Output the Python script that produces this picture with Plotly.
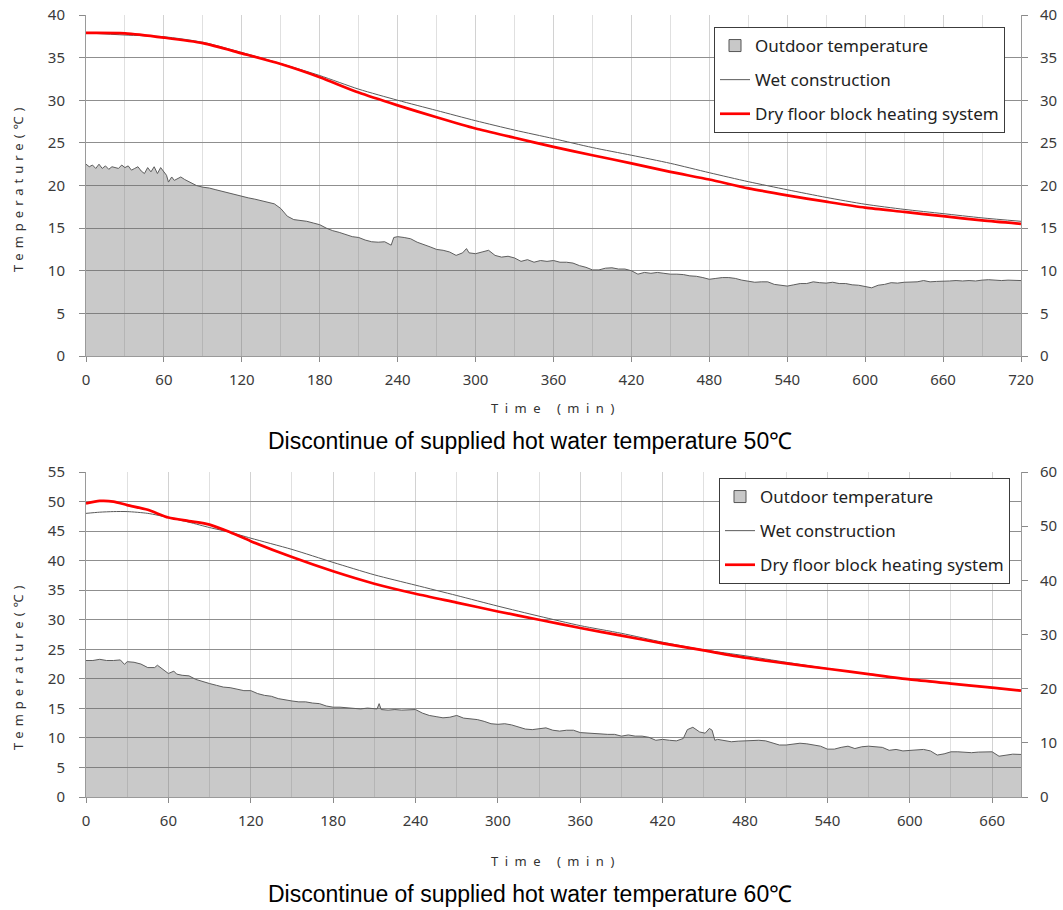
import plotly.graph_objects as go

W, H = 1063, 910


def px(x):
    return x / W


def py(y):
    return 1 - y / H


# ---------------- Data: top chart (supplied hot water 50 °C) ----------------
top_curve_t = [0, 30, 60, 90, 120, 150, 180, 210, 240, 270, 300, 330, 360, 390,
               420, 450, 480, 510, 540, 570, 600, 630, 660, 690, 720]
top_wet = [37.9, 37.65, 37.45, 36.8, 35.6, 34.3, 32.9, 31.3, 30.0, 28.8, 27.6, 26.5,
           25.5, 24.45, 23.55, 22.6, 21.5, 20.45, 19.5, 18.6, 17.8, 17.2, 16.7, 16.2, 15.8]
top_dry = [37.9, 37.85, 37.35, 36.7, 35.5, 34.25, 32.7, 30.9, 29.4, 28.0, 26.68, 25.6,
           24.53, 23.55, 22.6, 21.6, 20.7, 19.67, 18.85, 18.1, 17.4, 16.9, 16.4, 15.9, 15.5]

top_out_t = [0, 2.5, 5, 7.5, 10, 12.5, 15, 17.5, 20, 22.5, 25, 27.5, 30, 32.5, 35, 37.5,
             40, 42.5, 45, 47.5, 50, 52.5, 55, 57.5, 60, 62, 63.5, 66, 68, 70, 73, 76,
             80, 85, 90, 95, 100, 105, 110, 115, 120, 125, 130, 135, 140, 145, 150, 155,
             160, 165, 170, 175, 180, 185, 190, 195, 200, 205, 210, 215, 220, 225, 230,
             235, 237, 240, 245, 250, 255, 260, 265, 270, 275, 280, 285, 290, 293, 295,
             300, 305, 310, 315, 320, 325, 330, 335, 340, 345, 350, 355, 360, 365, 370,
             375, 380, 385, 390, 395, 400, 405, 410, 415, 420, 425, 430, 435, 440, 445,
             450, 455, 460, 465, 470, 475, 480, 485, 490, 495, 500, 505, 510, 515, 520,
             525, 530, 535, 540, 545, 550, 555, 560, 565, 570, 575, 580, 585, 590, 595,
             600, 605, 610, 615, 620, 625, 630, 635, 640, 645, 650, 655, 660, 665, 670,
             675, 680, 685, 690, 695, 700, 705, 710, 715, 720]
top_out_v = [22.5, 22.2, 22.4, 22.0, 22.5, 22.0, 22.3, 21.9, 22.2, 22.1, 22.0, 22.4, 22.1,
             22.3, 21.8, 22.0, 22.2, 21.7, 21.4, 22.1, 21.6, 22.2, 21.4, 22.1, 21.6, 21.2,
             20.4, 21.0, 20.6, 20.8, 21.0, 20.7, 20.4, 20.0, 19.8, 19.7, 19.5, 19.3, 19.1,
             18.9, 18.75, 18.55, 18.4, 18.2, 18.0, 17.85, 17.3, 16.4, 16.0, 15.9, 15.8,
             15.6, 15.4, 15.0, 14.7, 14.5, 14.25, 14.0, 13.9, 13.6, 13.4, 13.35, 13.4,
             13.0, 13.9, 14.0, 13.9, 13.75, 13.35, 13.1, 12.8, 12.5, 12.4, 12.2, 11.8,
             12.1, 12.6, 12.1, 12.0, 12.2, 12.4, 11.8, 11.6, 11.7, 11.5, 11.1, 11.3, 11.0,
             11.2, 11.1, 11.2, 11.0, 11.0, 10.9, 10.6, 10.4, 10.1, 10.1, 10.3, 10.35, 10.2,
             10.2, 10.0, 9.6, 9.8, 9.7, 9.8, 9.7, 9.6, 9.6, 9.55, 9.4, 9.35, 9.2, 9.0,
             9.1, 9.2, 9.2, 9.1, 8.9, 8.8, 8.65, 8.7, 8.7, 8.4, 8.3, 8.2, 8.35, 8.5, 8.5,
             8.7, 8.6, 8.55, 8.65, 8.5, 8.5, 8.35, 8.3, 8.15, 8.0, 8.3, 8.4, 8.6, 8.55,
             8.65, 8.65, 8.7, 8.85, 8.7, 8.75, 8.75, 8.8, 8.85, 8.8, 8.85, 8.8, 8.9, 8.95,
             8.9, 8.85, 8.9, 8.9, 8.85]

# ---------------- Data: bottom chart (supplied hot water 60 °C) ----------------
bot_curve_t = [0, 10, 20, 30, 45, 60, 75, 90, 105, 120, 150, 180, 210, 240, 270, 300,
               330, 360, 390, 420, 450, 480, 510, 540, 570, 600, 630, 660, 681]
bot_wet = [48.0, 48.2, 48.3, 48.3, 48.0, 47.3, 46.5, 45.6, 44.8, 43.8, 41.9, 39.7, 37.6,
           35.85, 34.1, 32.3, 30.6, 29.0, 27.7, 26.2, 24.9, 23.9, 22.8, 21.75, 20.8,
           19.85, 19.15, 18.45, 17.95]
bot_dry = [49.7, 50.1, 50.0, 49.4, 48.6, 47.3, 46.7, 46.1, 44.8, 43.3, 40.6, 38.2, 36.1,
           34.4, 32.9, 31.4, 30.0, 28.6, 27.3, 26.0, 24.8, 23.6, 22.6, 21.7, 20.8, 19.9,
           19.2, 18.5, 18.0]

bot_out_t = [0, 5, 10, 15, 20, 25, 28, 30, 35, 40, 45, 50, 52, 55, 60, 64, 66, 70, 75, 80,
             85, 90, 95, 100, 105, 110, 115, 120, 125, 130, 135, 140, 145, 150, 155, 160,
             165, 170, 175, 180, 185, 190, 195, 200, 205, 210, 212, 213.5, 215, 220, 225,
             230, 235, 240, 245, 250, 255, 260, 265, 270, 275, 280, 285, 290, 295, 300,
             305, 310, 315, 320, 325, 330, 335, 340, 345, 350, 355, 360, 365, 370, 375,
             380, 385, 390, 395, 400, 405, 410, 415, 420, 425, 430, 435, 438, 442, 447,
             451, 454, 456, 458, 460, 465, 470, 475, 480, 485, 490, 495, 500, 505, 510,
             515, 520, 525, 530, 535, 540, 545, 550, 555, 560, 565, 570, 575, 580, 585,
             590, 595, 600, 605, 610, 615, 620, 625, 630, 635, 640, 645, 650, 655, 660,
             665, 670, 675, 681]
bot_out_v = [23.1, 23.1, 23.3, 23.1, 23.1, 23.2, 22.45, 22.9, 22.8, 22.5, 21.9, 21.9, 22.3,
             21.8, 20.9, 21.3, 20.8, 20.6, 20.5, 19.9, 19.5, 19.2, 18.9, 18.6, 18.5, 18.2,
             18.0, 18.0, 17.5, 17.2, 17.05, 16.65, 16.4, 16.25, 16.1, 16.1, 15.9, 15.8,
             15.4, 15.2, 15.2, 15.1, 14.9, 14.9, 15.05, 14.9, 14.9, 15.8, 14.8, 14.7, 14.8,
             14.7, 14.8, 14.8, 14.2, 13.8, 13.6, 13.4, 13.5, 13.8, 13.35, 13.2, 13.1, 12.8,
             12.4, 12.3, 12.4, 12.2, 11.9, 11.5, 11.4, 11.55, 11.7, 11.3, 11.15, 11.3, 11.3,
             10.9, 10.8, 10.8, 10.65, 10.6, 10.6, 10.3, 10.5, 10.3, 10.3, 10.1, 9.6, 9.75,
             9.6, 9.5, 9.9, 11.4, 11.8, 11.0, 10.8, 11.6, 11.3, 9.6, 9.75, 9.6, 9.35, 9.45,
             9.5, 9.6, 9.6, 9.5, 9.2, 8.8, 8.8, 9.0, 9.1, 9.0, 8.8, 8.6, 8.1, 8.1, 8.4, 8.6,
             8.2, 8.5, 8.6, 8.5, 8.4, 7.9, 8.05, 7.8, 7.9, 7.9, 8.05, 7.8, 7.1, 7.3, 7.65,
             7.65, 7.6, 7.5, 7.6, 7.65, 7.65, 6.9, 7.1, 7.25, 7.2]

top_xticks = list(range(0, 721, 60))
bot_xticks = list(range(0, 661, 60))

series_names = ["Outdoor temperature", "Wet construction", "Dry floor block heating system"]
captions = ["Discontinue of supplied hot water temperature 50℃",
            "Discontinue of supplied hot water temperature 60℃"]
x_title = "Time (min)"
y_title = "Temperature(℃)"

# ---------------- Styling ----------------
OUT_FILL = "rgba(100,100,100,0.35)"
OUT_LINE = "#5e5e5e"
WET_COLOR = "#5a5a5a"
DRY_COLOR = "#ff0000"
TICK_FONT = dict(family="Noto Sans", size=15, color="#3a3a3a")
HGRID = "#8f8f8f"
VGRID = "#d2d2d2"
VMINOR = "#e0e0e0"

fig = go.Figure()


def add_chart(xa, ya, ya_right, leg, out_t, out_v, ct, wet, dry):
    fig.add_trace(go.Scatter(x=out_t, y=out_v, name=series_names[0], mode="lines",
                             fill="tozeroy", fillcolor=OUT_FILL,
                             line=dict(color=OUT_LINE, width=1),
                             xaxis=xa, yaxis=ya, showlegend=False, legendgroup=leg + "a",
                             hoverinfo="skip"))
    fig.add_trace(go.Bar(x=[None], y=[None], name=series_names[0],
                         marker=dict(color="#c8c8c8", line=dict(color="#555555", width=1)),
                         xaxis=xa, yaxis=ya, legend=leg, legendgroup=leg + "a"))
    fig.add_trace(go.Scatter(x=ct, y=wet, name=series_names[1], mode="lines",
                             line=dict(color=WET_COLOR, width=1, shape="spline", smoothing=0.7),
                             xaxis=xa, yaxis=ya, legend=leg, legendgroup=leg + "b"))
    fig.add_trace(go.Scatter(x=ct, y=dry, name=series_names[2], mode="lines",
                             line=dict(color=DRY_COLOR, width=2.7, shape="spline", smoothing=0.7),
                             xaxis=xa, yaxis=ya, legend=leg, legendgroup=leg + "c"))
    # placeholder so the secondary (right-hand) axis is drawn
    fig.add_trace(go.Scatter(x=[None], y=[None], mode="lines", xaxis=xa, yaxis=ya_right,
                             showlegend=False, hoverinfo="skip"))


add_chart("x", "y", "y3", "legend", top_out_t, top_out_v, top_curve_t, top_wet, top_dry)
add_chart("x2", "y2", "y4", "legend2", bot_out_t, bot_out_v, bot_curve_t, bot_wet, bot_dry)

XDOM = [px(86), px(1021)]
TOP_DOM = [py(356), py(15)]
BOT_DOM = [py(797), py(472)]


def xaxis(anchor, rng, ticks):
    return dict(domain=XDOM, anchor=anchor, range=rng, tickvals=ticks, automargin=False,
                showgrid=True, gridcolor=VGRID, gridwidth=1,
                minor=dict(dtick=30, tick0=0, showgrid=True, gridcolor=VMINOR, gridwidth=1),
                ticks="outside", ticklen=5, tickcolor="#8a8a8a",
                showline=True, linecolor="#9a9a9a", linewidth=1,
                tickfont=TICK_FONT, ticklabelstandoff=5, zeroline=False)


def yaxis(dom, rng, dtick, side="left", overlay=None, anchor="x"):
    d = dict(domain=dom, range=rng, dtick=dtick, side=side, anchor=anchor, automargin=False,
             showgrid=(overlay is None), gridcolor=HGRID, gridwidth=1,
             ticks="outside", ticklen=6, tickcolor="#8a8a8a",
             showline=True, linecolor="#9a9a9a", linewidth=1,
             tickfont=TICK_FONT, ticklabelstandoff=11 if side == "left" else 9,
             zeroline=False)
    if overlay:
        d["overlaying"] = overlay
    return d


LEG = dict(xanchor="left", yanchor="top",
           bgcolor="white", bordercolor="#3c3c3c", borderwidth=1,
           font=dict(family="Noto Sans", size=17, color="#222222"),
           traceorder="grouped", tracegroupgap=9, itemwidth=30)

fig.update_layout(
    width=W, height=H,
    margin=dict(l=0, r=0, t=0, b=0, autoexpand=False),
    paper_bgcolor="white", plot_bgcolor="white",
    xaxis=xaxis("y", [0, 720], top_xticks),
    yaxis=yaxis(TOP_DOM, [0, 40], 5),
    yaxis3=yaxis(TOP_DOM, [0, 40], 5, side="right", overlay="y", anchor="x"),
    xaxis2=xaxis("y2", [0, 681], bot_xticks),
    yaxis2=yaxis(BOT_DOM, [0, 55], 5, anchor="x2"),
    yaxis4=yaxis(BOT_DOM, [0, 60], 10, side="right", overlay="y2", anchor="x2"),
    showlegend=True,
    legend=dict(x=px(714), y=py(27), **LEG),
    legend2=dict(x=px(719), y=py(478), **LEG),
)


def spaced(text, sp):
    return '<span style="letter-spacing:%spx">%s</span>' % (sp, text)


ann = []
for cy in (408, 861):
    ann.append(dict(text=spaced(x_title, 6.5), x=px(556), y=py(cy), xref="paper", yref="paper",
                    showarrow=False, font=dict(family="Noto Sans", size=13, color="#333333"),
                    xanchor="center", yanchor="middle"))
for cy in (188, 666):
    ann.append(dict(text=spaced(y_title, 5), x=px(18), y=py(cy), xref="paper", yref="paper",
                    showarrow=False, textangle=-90,
                    font=dict(family="Noto Sans", size=13, color="#333333"),
                    xanchor="center", yanchor="middle"))
for cap, cy in zip(captions, (441, 894)):
    ann.append(dict(text=cap, x=px(530), y=py(cy), xref="paper", yref="paper",
                    showarrow=False, font=dict(family="Liberation Sans", size=23, color="#000000"),
                    xanchor="center", yanchor="middle"))
fig.update_layout(annotations=ann)

fig.write_html("out.html", config={"displayModeBar": False},
               post_script="document.body.style.margin='0px';document.body.style.overflow='hidden';")
